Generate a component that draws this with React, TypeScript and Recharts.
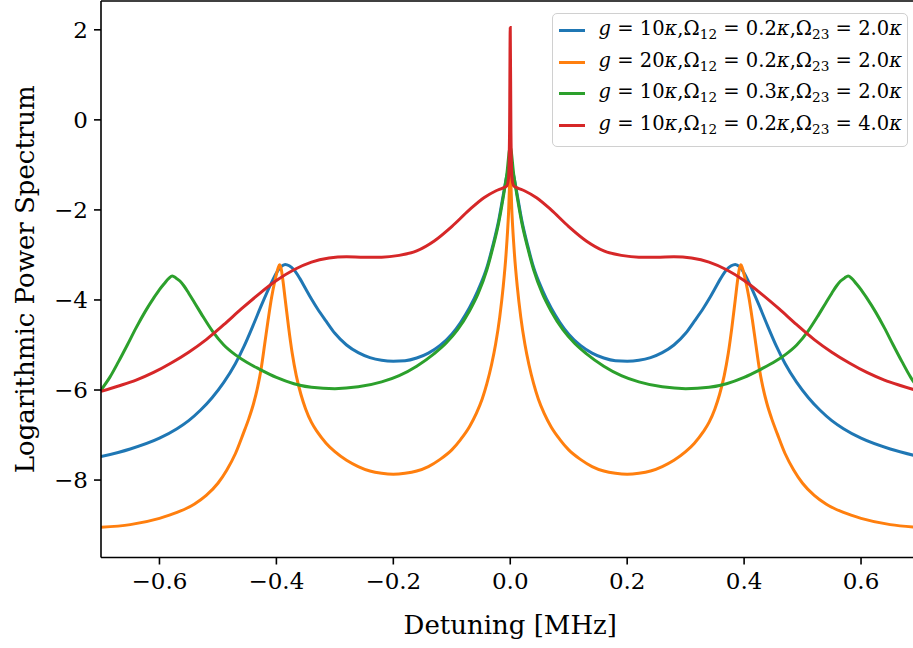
import { LineChart, Line, XAxis, YAxis, Legend, ReferenceLine } from 'recharts'

type Pt = [number, number]

// detuning [MHz], log power
const blue: Pt[] = [
  [-0.7, -7.48], [-0.65, -7.31], [-0.6, -7.07], [-0.57, -6.86], [-0.55, -6.68], [-0.53, -6.45],
  [-0.51, -6.17], [-0.49, -5.83], [-0.47, -5.41], [-0.455, -5.02], [-0.44, -4.57], [-0.425, -4.1],
  [-0.41, -3.66], [-0.4, -3.4], [-0.392, -3.26], [-0.385, -3.21], [-0.378, -3.24], [-0.37, -3.33],
  [-0.36, -3.52], [-0.35, -3.75], [-0.34, -3.98], [-0.33, -4.19], [-0.315, -4.47], [-0.3, -4.74],
  [-0.28, -5.0], [-0.26, -5.17], [-0.24, -5.28], [-0.22, -5.34], [-0.2, -5.36], [-0.18, -5.35],
  [-0.16, -5.29], [-0.14, -5.18], [-0.12, -5.01], [-0.1, -4.76], [-0.085, -4.5], [-0.07, -4.18],
  [-0.055, -3.78], [-0.04, -3.28], [-0.03, -2.8], [-0.02, -2.25], [-0.012, -1.67], [-0.006, -1.25],
  [0, -1.0],
  [0.006, -1.25], [0.012, -1.67], [0.02, -2.25], [0.03, -2.8], [0.04, -3.28], [0.055, -3.78],
  [0.07, -4.18], [0.085, -4.5], [0.1, -4.76], [0.12, -5.01], [0.14, -5.18], [0.16, -5.29],
  [0.18, -5.35], [0.2, -5.36], [0.22, -5.34], [0.24, -5.28], [0.26, -5.17], [0.28, -5.0],
  [0.3, -4.74], [0.315, -4.47], [0.33, -4.19], [0.34, -3.98], [0.35, -3.75], [0.36, -3.52],
  [0.37, -3.33], [0.378, -3.24], [0.385, -3.21], [0.392, -3.26], [0.4, -3.4], [0.41, -3.66],
  [0.425, -4.1], [0.44, -4.57], [0.455, -5.02], [0.47, -5.41], [0.49, -5.83], [0.51, -6.17],
  [0.53, -6.45], [0.55, -6.68], [0.57, -6.86], [0.6, -7.07], [0.65, -7.31], [0.7, -7.48],
]

const orange: Pt[] = [
  [-0.7, -9.05], [-0.65, -8.99], [-0.6, -8.85], [-0.57, -8.72], [-0.54, -8.53], [-0.52, -8.34],
  [-0.5, -8.07], [-0.485, -7.78], [-0.47, -7.41], [-0.457, -6.98], [-0.447, -6.63], [-0.439, -6.3],
  [-0.432, -5.93], [-0.426, -5.52], [-0.42, -4.98], [-0.414, -4.43], [-0.408, -3.93], [-0.403, -3.6],
  [-0.399, -3.38], [-0.397, -3.29], [-0.3945, -3.22], [-0.392, -3.3], [-0.389, -3.55], [-0.385, -3.98],
  [-0.379, -4.62], [-0.373, -5.18], [-0.366, -5.68], [-0.358, -6.1], [-0.35, -6.42], [-0.34, -6.72],
  [-0.33, -6.93], [-0.315, -7.18], [-0.3, -7.37], [-0.28, -7.56], [-0.26, -7.7], [-0.24, -7.8],
  [-0.22, -7.85], [-0.2, -7.87], [-0.18, -7.85], [-0.16, -7.8], [-0.14, -7.7], [-0.12, -7.54],
  [-0.1, -7.33], [-0.085, -7.1], [-0.07, -6.82], [-0.058, -6.52], [-0.048, -6.2], [-0.04, -5.86],
  [-0.032, -5.44], [-0.025, -4.98], [-0.018, -4.38], [-0.012, -3.7], [-0.007, -2.95], [-0.003, -2.1],
  [0, -1.2],
  [0.003, -2.1], [0.007, -2.95], [0.012, -3.7], [0.018, -4.38], [0.025, -4.98], [0.032, -5.44],
  [0.04, -5.86], [0.048, -6.2], [0.058, -6.52], [0.07, -6.82], [0.085, -7.1], [0.1, -7.33],
  [0.12, -7.54], [0.14, -7.7], [0.16, -7.8], [0.18, -7.85], [0.2, -7.87], [0.22, -7.85],
  [0.24, -7.8], [0.26, -7.7], [0.28, -7.56], [0.3, -7.37], [0.315, -7.18], [0.33, -6.93],
  [0.34, -6.72], [0.35, -6.42], [0.358, -6.1], [0.366, -5.68], [0.373, -5.18], [0.379, -4.62],
  [0.385, -3.98], [0.389, -3.55], [0.392, -3.3], [0.3945, -3.22], [0.397, -3.29], [0.399, -3.38],
  [0.403, -3.6], [0.408, -3.93], [0.414, -4.43], [0.42, -4.98], [0.426, -5.52], [0.432, -5.93],
  [0.439, -6.3], [0.447, -6.63], [0.457, -6.98], [0.47, -7.41], [0.485, -7.78], [0.5, -8.07],
  [0.52, -8.34], [0.54, -8.53], [0.57, -8.72], [0.6, -8.85], [0.65, -8.99], [0.7, -9.05],
]

const green: Pt[] = [
  [-0.7, -6.0], [-0.685, -5.72], [-0.67, -5.37], [-0.655, -5.0], [-0.64, -4.62], [-0.625, -4.27],
  [-0.61, -3.96], [-0.6, -3.77], [-0.592, -3.64], [-0.584, -3.52], [-0.578, -3.47], [-0.572, -3.51],
  [-0.565, -3.58], [-0.558, -3.69], [-0.55, -3.85], [-0.54, -4.06], [-0.525, -4.38], [-0.51, -4.68],
  [-0.49, -5.0], [-0.47, -5.22], [-0.45, -5.39], [-0.43, -5.53], [-0.4, -5.72], [-0.37, -5.86],
  [-0.34, -5.94], [-0.3, -5.97], [-0.26, -5.93], [-0.22, -5.82], [-0.19, -5.68], [-0.16, -5.47],
  [-0.13, -5.19], [-0.11, -4.96], [-0.09, -4.66], [-0.07, -4.25], [-0.055, -3.86], [-0.04, -3.33],
  [-0.03, -2.85], [-0.02, -2.3], [-0.012, -1.72], [-0.006, -1.22], [0, -0.6],
  [0.006, -1.22], [0.012, -1.72], [0.02, -2.3], [0.03, -2.85], [0.04, -3.33], [0.055, -3.86],
  [0.07, -4.25], [0.09, -4.66], [0.11, -4.96], [0.13, -5.19], [0.16, -5.47], [0.19, -5.68],
  [0.22, -5.82], [0.26, -5.93], [0.3, -5.97], [0.34, -5.94], [0.37, -5.86], [0.4, -5.72],
  [0.43, -5.53], [0.45, -5.39], [0.47, -5.22], [0.49, -5.0], [0.51, -4.68], [0.525, -4.38],
  [0.54, -4.06], [0.55, -3.85], [0.558, -3.69], [0.565, -3.58], [0.572, -3.51], [0.578, -3.47],
  [0.584, -3.52], [0.592, -3.64], [0.6, -3.77], [0.61, -3.96], [0.625, -4.27], [0.64, -4.62],
  [0.655, -5.0], [0.67, -5.37], [0.685, -5.72], [0.7, -6.0],
]

const red: Pt[] = [
  [-0.7, -6.03], [-0.67, -5.91], [-0.64, -5.78], [-0.61, -5.61], [-0.58, -5.4], [-0.55, -5.16],
  [-0.52, -4.88], [-0.49, -4.55], [-0.46, -4.2], [-0.43, -3.87], [-0.4, -3.57], [-0.37, -3.33],
  [-0.34, -3.16], [-0.31, -3.07], [-0.28, -3.04], [-0.25, -3.05], [-0.22, -3.05], [-0.19, -3.01],
  [-0.16, -2.91], [-0.13, -2.69], [-0.1, -2.37], [-0.07, -2.0], [-0.045, -1.73], [-0.025, -1.58],
  [-0.012, -1.51], [-0.006, -1.47], [-0.003, -1.3], [-0.0012, -0.3], [0, 2.05],
  [0.0012, -0.3], [0.003, -1.3], [0.006, -1.47], [0.012, -1.51], [0.025, -1.58], [0.045, -1.73],
  [0.07, -2.0], [0.1, -2.37], [0.13, -2.69], [0.16, -2.91], [0.19, -3.01], [0.22, -3.05],
  [0.25, -3.05], [0.28, -3.04], [0.31, -3.07], [0.34, -3.16], [0.37, -3.33], [0.4, -3.57],
  [0.43, -3.87], [0.46, -4.2], [0.49, -4.55], [0.52, -4.88], [0.55, -5.16], [0.58, -5.4],
  [0.61, -5.61], [0.64, -5.78], [0.67, -5.91], [0.7, -6.03],
]

const seriesColors = ['#1f77b4', '#ff7f0e', '#2ca02c', '#d62728']
const gValues = ['10', '20', '10', '10']
const omega12 = ['0.2', '0.2', '0.3', '0.2']
const omega23 = ['2.0', '2.0', '2.0', '4.0']

const xTicks = [-0.6, -0.4, -0.2, 0, 0.2, 0.4, 0.6]
const yTicks = [-8, -6, -4, -2, 0, 2]

const X_MIN = -0.7
const X_MAX = 0.7
const Y_MIN = -9.72
const Y_MAX = 2.64

const FONT = '"DejaVu Serif", serif'

const toRows = (pts: Pt[]) => pts.map(([x, y]) => ({ x, y }))
const series = [blue, orange, green, red].map(toRows)

const fmt = (v: number, digits: number) => {
  const s = Math.abs(v).toFixed(digits)
  return v < 0 ? '\u2212' + s : s
}

const sub = { fontSize: '0.7em', verticalAlign: '-0.3em', lineHeight: 0 }

function MathLabel({ i }: { i: number }) {
  return (
    <span style={{ whiteSpace: 'nowrap', lineHeight: '20px', marginTop: -3 }}>
      <i>g</i> = {gValues[i]}<i>κ</i>,Ω<span style={sub}>12</span> = {omega12[i]}<i>κ</i>,Ω
      <span style={sub}>23</span> = {omega23[i]}<i>κ</i>
    </span>
  )
}

function LegendBox() {
  return (
    <div
      style={{
        boxSizing: 'border-box',
        width: 356,
        height: 134,
        border: '1.5px solid #d0d0d0',
        borderRadius: 5,
        background: 'rgba(255,255,255,0.8)',
        padding: '1px 0 0 5.5px',
        fontFamily: FONT,
        fontSize: 19.5,
        color: '#000',
      }}
    >
      {seriesColors.map((c, i) => (
        <div key={i} style={{ display: 'flex', alignItems: 'center', height: 31.7 }}>
          <span style={{ width: 26, height: 3, background: c, marginRight: 14, flex: 'none' }} />
          <MathLabel i={i} />
        </div>
      ))}
    </div>
  )
}

export default function App() {
  return (
    <div style={{ position: 'fixed', left: 0, top: 0, width: 913, height: 648, overflow: 'hidden', background: '#fff' }}>
      <LineChart width={921} height={648} margin={{ top: 1, right: 1.5, left: 0, bottom: 0.5 }}>
        <XAxis
          type="number"
          dataKey="x"
          domain={[X_MIN, X_MAX]}
          allowDataOverflow
          ticks={xTicks}
          tickFormatter={(v: number) => fmt(v, 1)}
          height={90}
          tickSize={7}
          tickMargin={8}
          tick={{ fontFamily: FONT, fontSize: 23, fill: '#000' }}
          axisLine={{ stroke: '#000', strokeWidth: 1.6 }}
          tickLine={{ stroke: '#000', strokeWidth: 1.6 }}
          label={{ value: 'Detuning [MHz]', position: 'insideBottom', offset: 14, style: { fontFamily: FONT, fontSize: 26, fill: '#000' } }}
        />
        <YAxis
          type="number"
          domain={[Y_MIN, Y_MAX]}
          allowDataOverflow
          ticks={yTicks}
          tickFormatter={(v: number) => fmt(v, 0)}
          width={101}
          tickSize={7}
          tickMargin={6}
          tick={{ fontFamily: FONT, fontSize: 23, fill: '#000' }}
          axisLine={{ stroke: '#000', strokeWidth: 1.6 }}
          tickLine={{ stroke: '#000', strokeWidth: 1.6 }}
          label={{
            value: 'Logarithmic Power Spectrum',
            angle: -90,
            position: 'insideLeft',
            offset: 25,
            style: { fontFamily: FONT, fontSize: 26, fill: '#000', textAnchor: 'middle' },
          }}
        />
        <ReferenceLine y={Y_MAX} stroke="#000" strokeWidth={1.6} />
        <ReferenceLine x={X_MAX} stroke="#000" strokeWidth={1.6} />
        {series.map((rows, i) => (
          <Line
            key={i}
            data={rows}
            dataKey="y"
            type="monotone"
            stroke={seriesColors[i]}
            strokeWidth={3}
            dot={false}
            activeDot={false}
            isAnimationActive={false}
          />
        ))}
        <Legend
          layout="vertical"
          align="center"
          verticalAlign="middle"
          content={() => <LegendBox />}
          wrapperStyle={{ left: 552, top: 12.5, width: 356, height: 134 }}
        />
      </LineChart>
    </div>
  )
}
